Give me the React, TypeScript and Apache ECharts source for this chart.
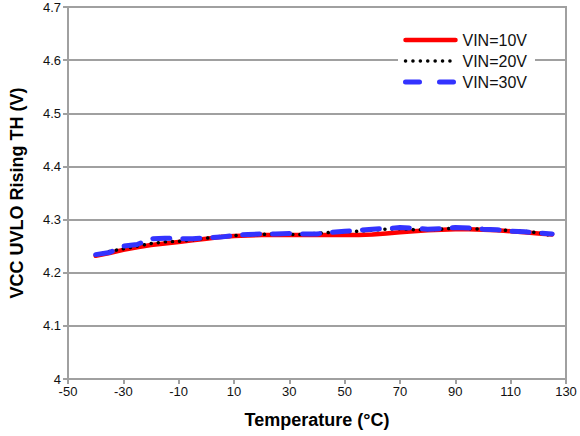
import React, { useEffect, useRef } from "react";
import * as echarts from "echarts";

const temps = [-40, -35, -30, -25, -20, -15, -10, -5, 0, 5, 10, 15, 20, 25, 30, 35, 40, 45, 50, 55, 60, 65, 70, 75, 80, 85, 90, 95, 100, 105, 110, 115, 120, 125];

const vin10 = [4.232, 4.237, 4.243, 4.248, 4.252, 4.255, 4.258, 4.261, 4.264, 4.267, 4.269, 4.27, 4.271, 4.271, 4.271, 4.271, 4.271, 4.271, 4.271, 4.271, 4.272, 4.274, 4.276, 4.278, 4.28, 4.281, 4.282, 4.282, 4.281, 4.28, 4.278, 4.276, 4.274, 4.272];
const vin20 = [4.233, 4.24, 4.245, 4.25, 4.255, 4.258, 4.259, 4.262, 4.265, 4.268, 4.27, 4.271, 4.272, 4.273, 4.272, 4.272, 4.274, 4.276, 4.277, 4.278, 4.28, 4.282, 4.283, 4.281, 4.281, 4.282, 4.284, 4.283, 4.282, 4.281, 4.279, 4.278, 4.275, 4.27];
const vin30 = [4.234, 4.238, 4.25, 4.253, 4.264, 4.265, 4.264, 4.264, 4.266, 4.267, 4.27, 4.272, 4.273, 4.273, 4.274, 4.273, 4.273, 4.276, 4.278, 4.28, 4.282, 4.283, 4.285, 4.284, 4.282, 4.283, 4.285, 4.284, 4.282, 4.281, 4.278, 4.277, 4.275, 4.273];

const seriesNames = ["VIN=10V", "VIN=20V", "VIN=30V"];

const pair = (ys: number[]) => temps.map((t, i) => [t, ys[i]]);

export default function App() {
  const ref = useRef<HTMLDivElement>(null);
  useEffect(() => {
    if (!ref.current) return;
    const chart = echarts.init(ref.current, null, { renderer: "svg" });
    const font = "Arial, 'Liberation Sans', sans-serif";
    const styles = [
      { color: "#ff0000", width: 4.5, type: "solid" as any, cap: "round" },
      { color: "#000000", width: 3.5, type: [0.1, 7] as any, cap: "round" },
      { color: "#3333ff", width: 5, type: [17, 13] as any, cap: "round" },
    ];
    const legendStyles = [
      { color: "#ff0000", width: 4.5, type: "solid" as any, cap: "round" },
      { color: "#000000", width: 3.5, type: [0.1, 7.3] as any, cap: "round" },
      { color: "#3333ff", width: 5, type: [14, 20] as any, cap: "round" },
    ];
    chart.setOption({
      animation: false,
      textStyle: { fontFamily: font },
      grid: {
        left: 66,
        right: 14,
        top: 7,
        bottom: 57,
        show: true,
        borderColor: "#a0a0a0",
        borderWidth: 2,
      },
      legend: {
        left: 398,
        top: 27,
        orient: "vertical",
        itemWidth: 50,
        itemHeight: 14,
        itemGap: 5,
        padding: [5, 8, 5, 5],
        backgroundColor: "#ffffff",
        textStyle: { fontFamily: font, fontSize: 16, color: "#111", padding: [0, 0, 0, 2] },
        itemStyle: { opacity: 0 },
        data: seriesNames.map((n, i) => ({
          name: n,
          itemStyle: { opacity: 0 },
          lineStyle: legendStyles[i],
        })),
      },
      xAxis: {
        type: "value",
        min: -50,
        max: 130,
        interval: 20,
        name: "Temperature (°C)",
        nameLocation: "middle",
        nameGap: 32,
        nameTextStyle: { fontFamily: font, fontSize: 18, fontWeight: "bold", color: "#000" },
        axisLine: { show: true, onZero: false, lineStyle: { color: "#a0a0a0", width: 2 } },
        axisTick: { show: true, length: 5, lineStyle: { color: "#a0a0a0", width: 2 } },
        axisLabel: { fontFamily: font, fontSize: 13, color: "#111", margin: 6 },
        splitLine: { show: false },
      },
      yAxis: {
        type: "value",
        min: 4,
        max: 4.7,
        interval: 0.1,
        name: "VCC UVLO Rising TH (V)",
        nameLocation: "middle",
        nameGap: 42,
        nameTextStyle: { fontFamily: font, fontSize: 18, fontWeight: "bold", color: "#000" },
        axisLine: { show: true, onZero: false, lineStyle: { color: "#a0a0a0", width: 2 } },
        axisTick: { show: true, length: 5, lineStyle: { color: "#a0a0a0", width: 2 } },
        axisLabel: {
          fontFamily: font,
          fontSize: 13,
          color: "#111",
          margin: 7,
          formatter: (v: number) => String(Math.round(v * 10) / 10),
        },
        splitLine: { show: true, lineStyle: { color: "#a0a0a0", width: 2 } },
      },
      series: [vin10, vin20, vin30].map((ys, i) => ({
        name: seriesNames[i],
        type: "line",
        data: pair(ys),
        symbol: "none",
        color: styles[i].color,
        lineStyle: styles[i],
        z: 2 + i,
      })),
    });
    return () => chart.dispose();
  }, []);
  return (
    <div
      ref={ref}
      style={{ position: "fixed", left: 0, top: 0, width: 580, height: 436, background: "#fff" }}
    />
  );
}
